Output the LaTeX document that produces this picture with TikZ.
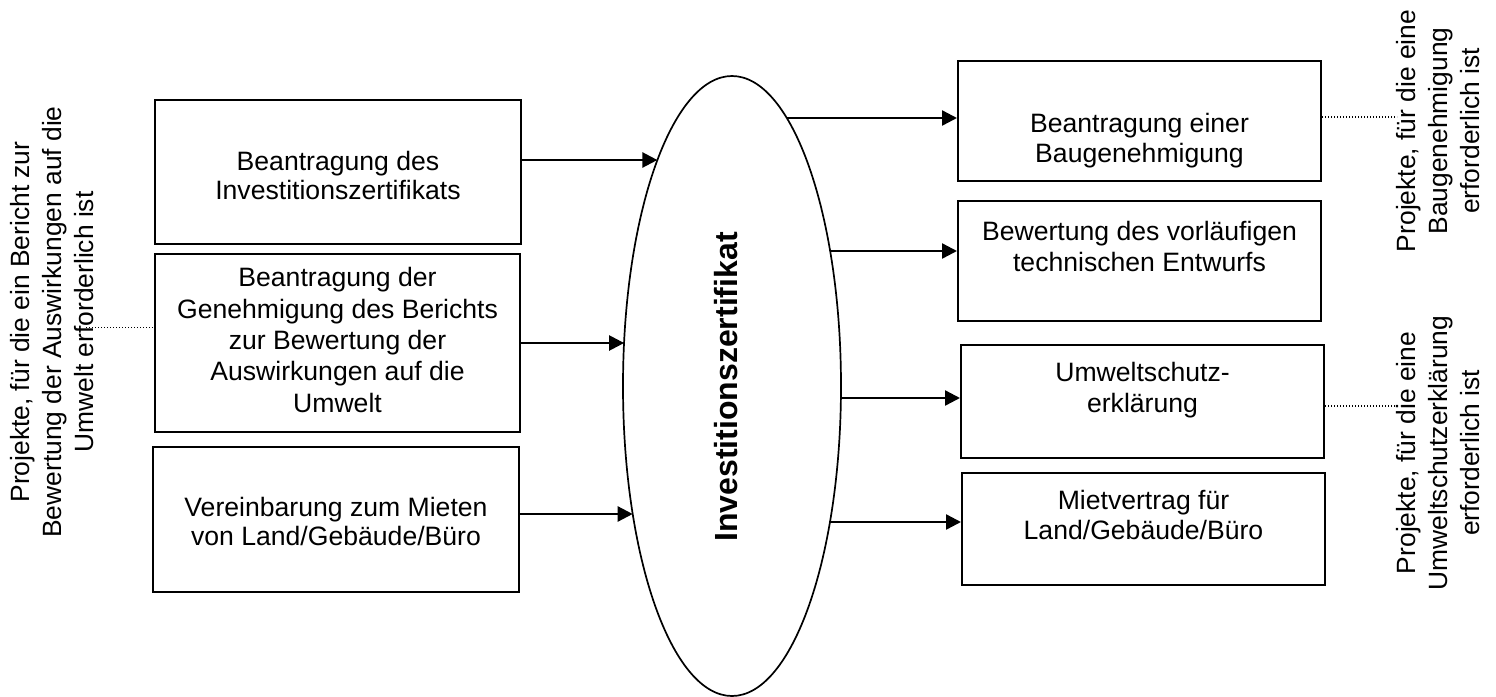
\documentclass[tikz,border=0pt]{standalone}
\usepackage{fontspec}
\setmainfont{Liberation Sans}
\usetikzlibrary{arrows.meta,shapes.geometric,calc}
\begin{document}
\begin{tikzpicture}[x=0.5pt,y=-0.5pt,
  box/.style={draw, line width=1pt, inner sep=0pt},
  txt/.style={align=center, inner sep=0pt, font=\fontsize{13.3}{#1}\selectfont},
  txt/.default={14},
  lab/.style={rotate=90, align=center, inner sep=0pt, font=\fontsize{13.2}{16}\selectfont},
  arr/.style={line width=1.2pt, -{Triangle[length=7.5pt,width=7.5pt]}},
  dotline/.style={line width=0.6pt, dash pattern=on 0.6pt off 0.9pt}]
\useasboundingbox (0,0) rectangle (1496,697);

% left boxes
\node[box, minimum width=183pt, minimum height=72pt] (L1) at (338,172) {};
\node[box, minimum width=182.5pt, minimum height=89pt] (L2) at (337.5,343) {};
\node[box, minimum width=183pt, minimum height=72.5pt] (L3) at (336,519.5) {};
\node[txt=14.5] (tL1) at (338,175) {Beantragung des\\Investitionszertifikats};
\node[txt=15.7] (tL2) at (337.5,340) {Beantragung der\\Genehmigung des Berichts\\zur Bewertung der\\Auswirkungen auf die\\Umwelt};
\node[txt=14.5] (tL3) at (336,521) {Vereinbarung zum Mieten\\von Land/Gebäude/Büro};

% right boxes
\node[box, minimum width=181.5pt, minimum height=60pt] (R1) at (1139.5,121) {};
\node[box, minimum width=181.5pt, minimum height=60pt] (R2) at (1139.5,261) {};
\node[box, minimum width=181.5pt, minimum height=56.5pt] (R3) at (1142.5,401.5) {};
\node[box, minimum width=181.5pt, minimum height=56pt] (R4) at (1143.5,529) {};
\node[txt=15] (tR1) at (1139.5,141) {Beantragung einer\\Baugenehmigung};
\node[txt=15.5] (tR2) at (1139.5,246) {Bewertung des vorläufigen\\technischen Entwurfs};
\node[txt=15.5] (tR3) at (1142.5,390) {Umweltschutz-\\erklärung};
\node[txt=15.2] (tR4) at (1143.5,515) {Mietvertrag für\\Land/Gebäude/Büro};

% ellipse
\node[draw, ellipse, line width=0.85pt, minimum width=109pt, minimum height=310pt, inner sep=0pt] (ell) at (732,386) {};
\node[rotate=90, inner sep=0pt, font=\bfseries\fontsize{16}{19}\selectfont] (ellt) at (726,387) {Investitionszertifikat};

% points on the ellipse
\coordinate (eL1) at (657.4,160);
\coordinate (eL2) at (624.1,343);
\coordinate (eL3) at (632.7,514);
\coordinate (eR1) at (786.8,118);
\coordinate (eR2) at (830.1,251);
\coordinate (eR3) at (840.9,398);
\coordinate (eR4) at (829.9,522);

\draw[arr] (L1.east |- eL1) -- (eL1);
\draw[arr] (L2.east |- eL2) -- (eL2);
\draw[arr] (L3.east |- eL3) -- (eL3);
\draw[arr] (eR1) -- (eR1 -| R1.west);
\draw[arr] (eR2) -- (eR2 -| R2.west);
\draw[arr] (eR3) -- (eR3 -| R3.west);
\draw[arr] (eR4) -- (eR4 -| R4.west);

% side labels
\node[lab] (labL) at (52,322) {Projekte, für die ein Bericht zur\\Bewertung der Auswirkungen auf die\\Umwelt erforderlich ist};
\node[lab] (labR1) at (1438.5,131) {Projekte, für die eine\\Baugenehmigung\\erforderlich ist};
\node[lab] (labR2) at (1438.5,453) {Projekte, für die eine\\Umweltschutzerklärung\\erforderlich ist};

% dotted connectors
\coordinate (dL) at (86,327.7);
\draw[dotline] (dL) -- (dL -| L2.west);
\coordinate (dR1) at (1397,117);
\draw[dotline] (R1.east |- dR1) -- (dR1);
\coordinate (dR3) at (1400,406);
\draw[dotline] (R3.east |- dR3) -- (dR3);
\end{tikzpicture}
\end{document}
